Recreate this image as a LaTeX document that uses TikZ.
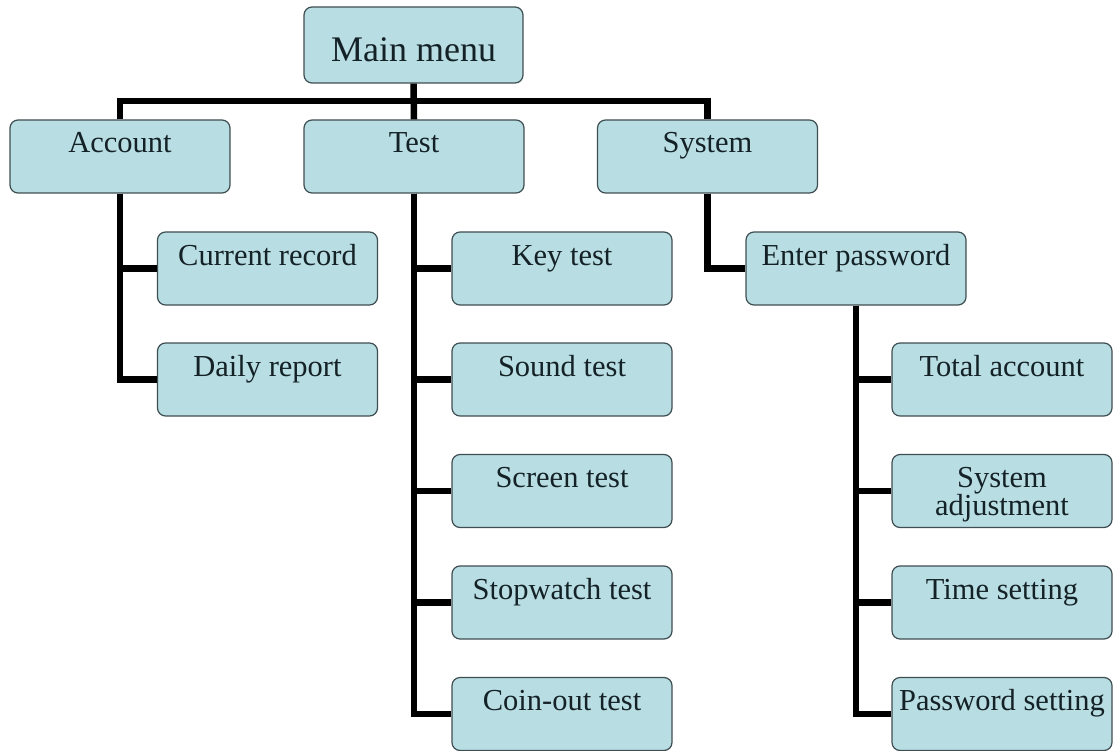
\documentclass[tikz,border=0pt]{standalone}
\usepackage{fontspec}
\setmainfont{Liberation Serif}
\definecolor{boxfill}{HTML}{B8DDE2}
\definecolor{boxline}{HTML}{3F4E52}
\definecolor{txt}{HTML}{142227}
\begin{document}
\begin{tikzpicture}[x=1pt,y=-1pt,
  box/.style={draw=boxline, line width=1.2pt, fill=boxfill, rounded corners=8pt,
    minimum width=220pt, minimum height=73pt, inner sep=0pt,
    text height=33pt, text depth=40pt, text=txt,
    font=\fontsize{30.5}{28}\selectfont},
  mainbox/.style={box, minimum width=219pt, minimum height=76pt,
    text height=55pt, text depth=21pt, font=\fontsize{36}{40}\selectfont},
  link/.style={line width=6.5pt, black, line join=miter}]
\useasboundingbox (0,0) rectangle (1115,751);
\fill[white] (0,0) rectangle (1115,751);
% nodes
\node[mainbox] (main) at (413.5,45) {Main menu};
\node[box] (acc)  at (120,156.5) {Account};
\node[box] (test) at (414,156.5) {Test};
\node[box] (sys)  at (707.5,156.5) {System};
\node[box] (cur)  at (267.5,268.5) {Current record};
\node[box] (day)  at (267.5,379.5) {Daily report};
\node[box] (key)  at (562,268.5) {Key test};
\node[box] (snd)  at (562,379.5) {Sound test};
\node[box] (scr)  at (562,491) {Screen test};
\node[box] (stw)  at (562,602.5) {Stopwatch test};
\node[box] (coin) at (562,714) {Coin-out test};
\node[box] (ent)  at (856,268.5) {Enter password};
\node[box] (tot)  at (1002,379.5) {Total account};
\node[box] (sadj) at (1002,491) {\vtop{\halign{\hfil#\hfil\cr System\cr adjustment\cr}}};
\node[box] (time) at (1002,602.5) {Time setting};
\node[box] (pwd)  at (1002,714) {Password setting};
\coordinate (bar) at (0,101);
% connectors
\draw[link] (main.south) -- (test.north);
\draw[link] (acc.north) -- (acc.north |- bar) -| (sys.north);
\draw[link] (acc.south) |- (cur.west);
\draw[link] (acc.south) |- (day.west);
\draw[link] (test.south) |- (key.west);
\draw[link] (test.south) |- (snd.west);
\draw[link] (test.south) |- (scr.west);
\draw[link] (test.south) |- (stw.west);
\draw[link] (test.south) |- (coin.west);
\draw[link] (sys.south) |- (ent.west);
\draw[link] (ent.south) |- (tot.west);
\draw[link] (ent.south) |- (sadj.west);
\draw[link] (ent.south) |- (time.west);
\draw[link] (ent.south) |- (pwd.west);
\end{tikzpicture}
\end{document}
